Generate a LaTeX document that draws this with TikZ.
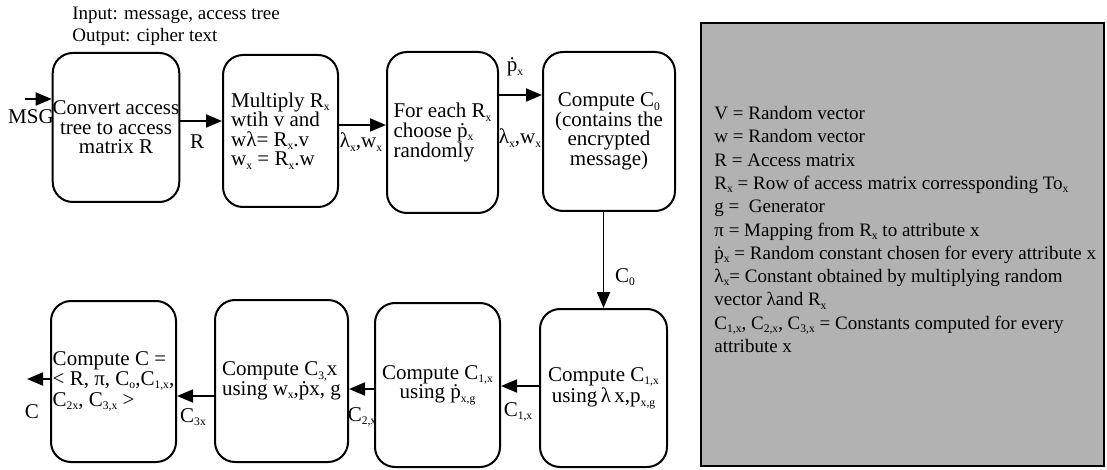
\documentclass[tikz,border=0pt]{standalone}
\usepackage{fontspec}
\setmainfont{Liberation Serif}
\usetikzlibrary{arrows.meta}
\definecolor{panelgray}{HTML}{B2B2B2}
\newcommand\sbx[1]{\raisebox{-0.35ex}{\fontsize{5.8}{5.8}\selectfont #1}}
\newcommand\pd{\.{p}}
\newcommand\boxfont{\fontsize{10.5}{9.8}\selectfont}
\begin{document}
\begin{tikzpicture}[x=0.5pt,y=-0.5pt,
  box/.style={draw, line width=1pt, rounded corners=10pt, inner sep=0pt, font=\boxfont},
  arr/.style={line width=0.9pt, -{Triangle[length=8pt,width=6.5pt]}},
  hdr/.style={inner sep=0pt, font=\fontsize{9.5}{9.5}\selectfont},
  lbl/.style={inner sep=0pt, font=\fontsize{10.5}{10.5}\selectfont},
  panel/.style={draw, line width=1.1pt, fill=panelgray, inner sep=0pt}]
\useasboundingbox (0,0) rectangle (1107,470);

% header
\node[hdr, anchor=west] (hin) at (72,15) {Input: message, access tree};
\node[hdr, anchor=west] (hout) at (72,37) {Output: cipher text};

% upper row of steps
\node[box, minimum width=62pt, minimum height=74.5pt, align=center] (b1) at (116,127.5)
  {Convert access\\tree to access\\matrix R};
\node[box, minimum width=57.5pt, minimum height=76pt, align=left] (b2) at (280.5,131)
  {Multiply R\sbx{x}\\wtih v and\\wλ= R\sbx{x}.v\\w\sbx{x} = R\sbx{x}.w};
\node[box, minimum width=55.5pt, minimum height=80.5pt, align=left] (b3) at (442.5,132.5)
  {For each R\sbx{x}\\choose \pd\sbx{x}\\randomly};
\node[box, minimum width=66pt, minimum height=79.5pt, align=center] (b4) at (609,131.5)
  {Compute C\sbx{0}\\(contains the\\encrypted\\message)};

% lower row of steps
\node[box, minimum width=63.5pt, minimum height=79pt, align=center] (b5) at (603.5,388)
  {Compute C\sbx{1,x}\\using\,λ\,x,p\sbx{x,g}};
\node[box, minimum width=62.5pt, minimum height=82pt, align=center] (b6) at (437.5,385)
  {Compute C\sbx{1,x}\\using \pd\sbx{x,g}};
\node[box, minimum width=66.5pt, minimum height=81pt, align=left] (b7) at (281.5,381)
  {Compute C\sbx{3,}x\\using w\sbx{x},\pd x, g};
\node[box, minimum width=62.5pt, minimum height=80.5pt, align=left,
      font=\fontsize{10.5}{8.6}\selectfont] (b8) at (113.5,381.5)
  {Compute C =\\< R, π, C\sbx{o},C\sbx{1,x},\\C\sbx{2x}, C\sbx{3,x} >};

% free ends of the input and output arrows
\coordinate (msgin) at (25,99);
\coordinate (cout) at (27,379);

% connectors
\draw[arr] (msgin) -- (b1.west |- msgin);
\draw[arr] (b1.east |- 0,121) -- (b2.west |- 0,121);
\draw[arr] (b2.east |- 0,125) -- (b3.west |- 0,125);
\draw[arr] (b3.east |- 0,95) -- (b4.west |- 0,95);
\draw[arr] (b4.south -| b5.north) -- (b5.north);
\draw[arr] (b5.west |- 0,386) -- (b6.east |- 0,386);
\draw[arr] (b6.west |- 0,389) -- (b7.east |- 0,389);
\draw[arr] (b7.west |- 0,396) -- (b8.east |- 0,396);
\draw[arr] (b8.west |- cout) -- (cout);

% connector labels
\node[lbl] (lmsg) at (31,117) {MSG};
\node[lbl] (lr) at (197,142) {R};
\node[lbl] (llw1) at (361,142) {λ\sbx{x},w\sbx{x}};
\node[lbl] (lp) at (515,67) {\pd\sbx{x}};
\node[lbl] (llw2) at (520,138) {λ\sbx{x},w\sbx{x}};
\node[lbl] (lc0) at (625,277) {C\sbx{0}};
\node[lbl] (lc1) at (518,412) {C\sbx{1,x}};
\node[lbl] (lc2) at (362,417) {C\sbx{2,x}};
\node[lbl] (lc3) at (193,417) {C\sbx{3x}};
\node[lbl] (lc) at (32,412) {C};

% legend panel
\node[panel, minimum width=201.5pt, minimum height=221.5pt] (legend) at (902.5,244.5) {};
\node[inner sep=0pt, anchor=north west, align=left, font=\fontsize{9.5}{11.65}\selectfont] (legendtext) at (714,106)
  {V = Random vector\\
   w = Random vector\\
   R = Access matrix\\
   R\sbx{x} = Row of access matrix corressponding To\sbx{x}\\
   g = \ Generator\\
   π = Mapping from R\sbx{x} to attribute x\\
   \pd\sbx{x} = Random constant chosen for every attribute x\\
   λ\sbx{x}= Constant obtained by multiplying random\\
   vector λand R\sbx{x}\\
   C\sbx{1,x}, C\sbx{2,x}, C\sbx{3,x} = Constants computed for every\\
   attribute x};
\end{tikzpicture}
\end{document}
